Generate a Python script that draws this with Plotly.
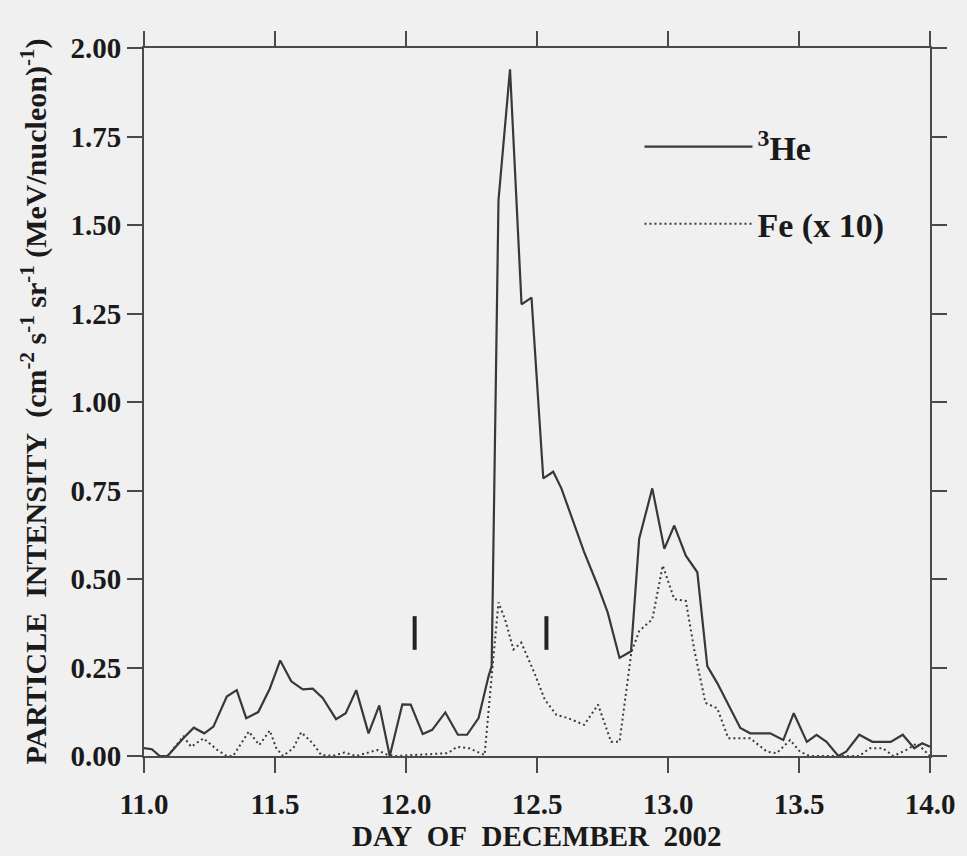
import plotly.graph_objects as go

# ---- data ----
he_x = [11.000, 11.030, 11.060, 11.090, 11.150, 11.190, 11.230, 11.265, 11.316, 11.354,
        11.390, 11.436, 11.480, 11.520, 11.562, 11.606, 11.644, 11.682, 11.733, 11.770,
        11.810, 11.857, 11.898, 11.938, 11.986, 12.018, 12.064, 12.100, 12.150, 12.198,
        12.233, 12.277, 12.315, 12.327, 12.353, 12.397, 12.441, 12.479, 12.524, 12.562,
        12.593, 12.631, 12.680, 12.732, 12.770, 12.815, 12.859, 12.890, 12.940, 12.986,
        13.024, 13.068, 13.112, 13.150, 13.188, 13.276, 13.314, 13.390, 13.440, 13.480,
        13.530, 13.567, 13.605, 13.650, 13.680, 13.730, 13.780, 13.850, 13.896, 13.940,
        13.970, 14.000]
he_y = [0.022, 0.019, 0.000, 0.000, 0.050, 0.080, 0.064, 0.083, 0.168, 0.186,
        0.107, 0.124, 0.190, 0.270, 0.211, 0.188, 0.190, 0.164, 0.104, 0.121,
        0.186, 0.064, 0.143, 0.000, 0.146, 0.145, 0.062, 0.074, 0.123, 0.060,
        0.060, 0.107, 0.225, 0.254, 1.570, 1.940, 1.276, 1.295, 0.784, 0.803,
        0.756, 0.680, 0.576, 0.481, 0.405, 0.277, 0.296, 0.614, 0.756, 0.585,
        0.651, 0.566, 0.519, 0.254, 0.206, 0.079, 0.064, 0.064, 0.045, 0.121,
        0.040, 0.060, 0.040, 0.000, 0.012, 0.060, 0.040, 0.040, 0.060, 0.022,
        0.036, 0.026]

fe_x = [11.090, 11.150, 11.180, 11.227, 11.280, 11.316, 11.340, 11.400, 11.440, 11.480,
        11.505, 11.530, 11.570, 11.600, 11.644, 11.676, 11.720, 11.765, 11.810, 11.890,
        11.930, 11.960, 12.160, 12.195, 12.240, 12.300, 12.327, 12.353, 12.378, 12.410,
        12.440, 12.490, 12.530, 12.574, 12.619, 12.680, 12.733, 12.783, 12.815, 12.860,
        12.890, 12.940, 12.980, 13.024, 13.068, 13.100, 13.143, 13.188, 13.230, 13.314,
        13.378, 13.415, 13.466, 13.504, 13.540, 13.730, 13.770, 13.820, 13.860, 13.910,
        13.950, 14.000]
fe_y = [0.000, 0.055, 0.026, 0.050, 0.017, 0.000, 0.000, 0.069, 0.031, 0.072,
        0.022, 0.000, 0.022, 0.067, 0.036, 0.003, 0.000, 0.010, 0.000, 0.017,
        0.003, 0.000, 0.008, 0.026, 0.022, 0.003, 0.225, 0.434, 0.386, 0.301,
        0.320, 0.235, 0.159, 0.116, 0.107, 0.088, 0.145, 0.040, 0.040, 0.292,
        0.353, 0.386, 0.538, 0.443, 0.438, 0.301, 0.150, 0.135, 0.050, 0.050,
        0.012, 0.008, 0.045, 0.012, 0.000, 0.000, 0.022, 0.022, 0.000, 0.017,
        0.036, 0.000]

event_x = [12.033, 12.536]          # vertical event markers
event_y = [0.300, 0.395]            # bottom / top of markers

x_ticks = [11.0, 11.5, 12.0, 12.5, 13.0, 13.5, 14.0]
x_ticklabels = ["11.0", "11.5", "12.0", "12.5", "13.0", "13.5", "14.0"]
y_ticks = [0.0, 0.25, 0.5, 0.75, 1.0, 1.25, 1.5, 1.75, 2.0]
y_ticklabels = ["0.00", "0.25", "0.50", "0.75", "1.00", "1.25", "1.50", "1.75", "2.00"]

BG = "#f0f0f0"
AX = "#4a4a4a"
FONT = "Liberation Serif"
NB = "\u00a0"

ev_xs, ev_ys = [], []
for ex in event_x:
    ev_xs += [ex, ex, None]
    ev_ys += [event_y[0], event_y[1], None]

fig = go.Figure()
fig.add_trace(go.Scatter(
    x=he_x, y=he_y, mode="lines", name="<sup>3</sup>He",
    line=dict(color="#383838", width=2.2), legendgroup="a"))
fig.add_trace(go.Scatter(
    x=fe_x, y=fe_y, mode="lines", name="Fe (x 10)",
    line=dict(color="#3a3a3a", width=2, dash="2px,3px"), legendgroup="b"))
fig.add_trace(go.Scatter(
    x=ev_xs, y=ev_ys, mode="lines", showlegend=False,
    line=dict(color="#222222", width=4)))

axis_common = dict(
    showline=True, linecolor=AX, linewidth=2, mirror="ticks",
    ticks="outside", ticklen=15, tickwidth=2, tickcolor=AX,
    showgrid=False, zeroline=False,
    tickfont=dict(family=FONT, size=29, color="#1a1a1a", weight="bold"),
)

fig.update_xaxes(range=[11.0, 14.0], tickvals=x_ticks, ticktext=x_ticklabels,
                 ticklabelstandoff=6, **axis_common)
fig.update_yaxes(range=[0.0, 2.0], tickvals=y_ticks, ticktext=y_ticklabels, **axis_common)

ytitle = ("PARTICLE" + NB * 2 + "INTENSITY" + NB * 2 +
          "(cm<sup>-2</sup> s<sup>-1</sup> sr<sup>-1</sup> (MeV/nucleon)<sup>-1</sup>)")
xtitle = "DAY" + NB * 2 + "OF" + NB * 2 + "DECEMBER" + NB * 2 + "2002"

fig.add_annotation(text=ytitle, xref="paper", yref="paper", x=(33 - 144) / 790, y=0.5,
                   xanchor="center", yanchor="middle", textangle=-90, showarrow=False,
                   font=dict(family=FONT, size=30, color="#1a1a1a", weight="bold"))
fig.add_annotation(text=xtitle, xref="paper", yref="paper", x=0.5, y=-(836 - 756) / 708,
                   xanchor="center", yanchor="middle", showarrow=False,
                   font=dict(family=FONT, size=29, color="#1a1a1a", weight="bold"))

fig.update_layout(
    width=967, height=856,
    margin=dict(l=144, r=33, t=48, b=100),
    paper_bgcolor=BG, plot_bgcolor=BG,
    font=dict(family=FONT, color="#1a1a1a", weight="bold"),
    legend=dict(x=(642 - 144) / 790, y=(756 - 118) / 708, xanchor="left", yanchor="top",
                bgcolor="rgba(0,0,0,0)", itemwidth=108, traceorder="grouped",
                tracegroupgap=30,
                font=dict(family=FONT, size=34, color="#1a1a1a", weight="bold")),
)

fig.write_html("out.html")
